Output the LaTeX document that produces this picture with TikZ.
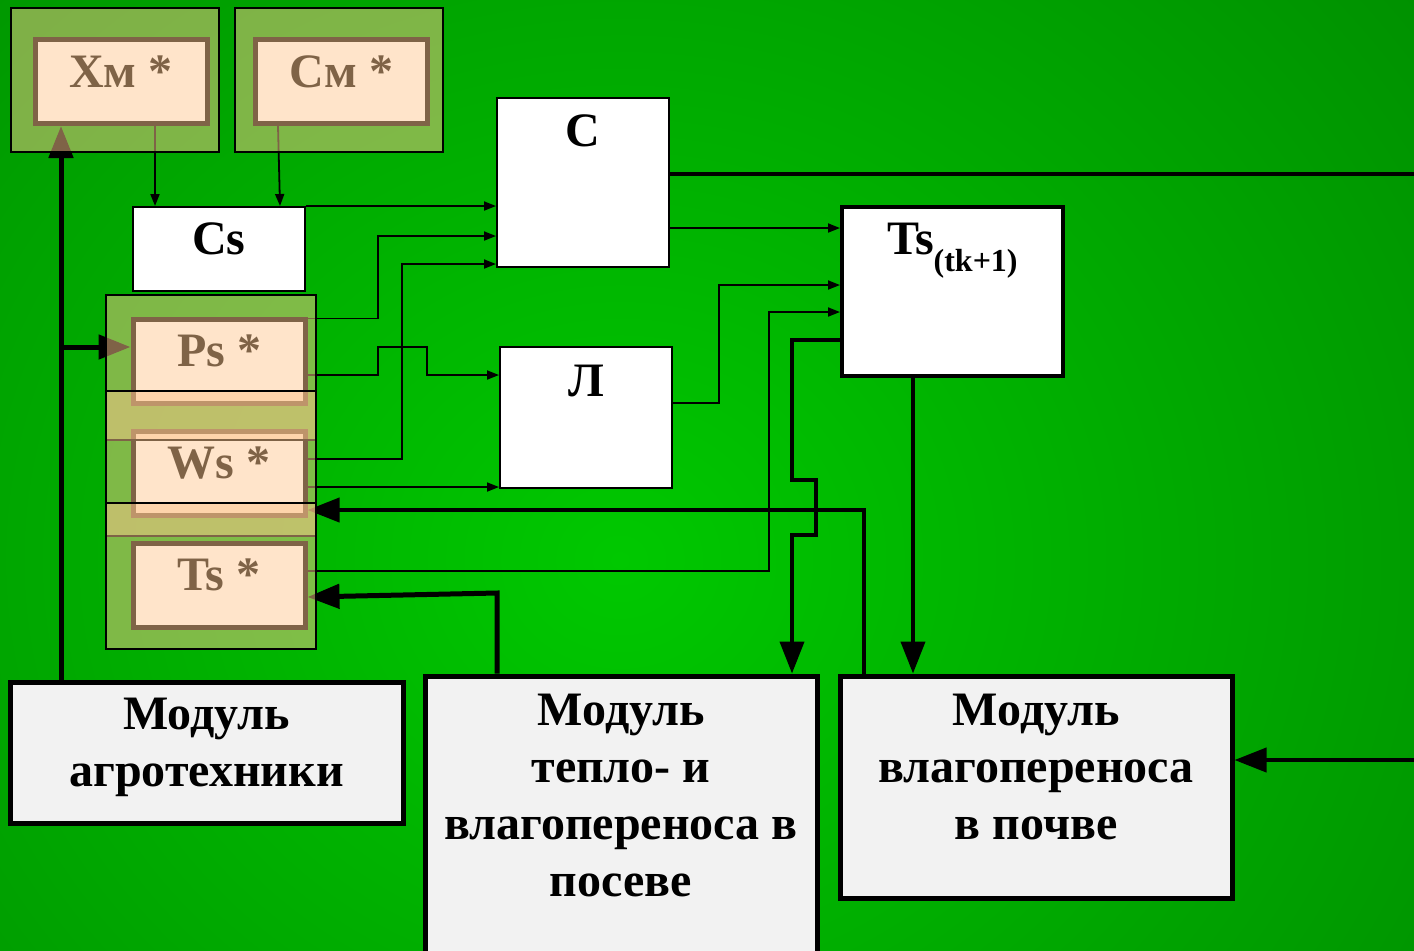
\documentclass[tikz,border=0pt]{standalone}
\usepackage{fontspec}
\setmainfont{Liberation Serif}
\usetikzlibrary{arrows.meta,positioning}

\definecolor{bgin}{RGB}{0,200,0}
\definecolor{bgout}{RGB}{0,140,0}
\definecolor{tan}{RGB}{254,198,142}
\definecolor{peach}{RGB}{255,228,202}
\definecolor{mudbrown}{RGB}{127,99,71}
\definecolor{modgray}{RGB}{242,242,242}

\pgfdeclarelayer{bg}
\pgfdeclarelayer{fg}
\pgfsetlayers{bg,main,fg}

\begin{document}
\begin{tikzpicture}[x=0.5pt, y=-0.5pt, font=\bfseries\fontsize{24}{28.5}\selectfont,
                    group/.style={draw=black, line width=1pt, fill=tan, fill opacity=.5, minimum width=104pt, minimum height=72pt, inner sep=0pt}]
    \tikzstyle{inbox}=[draw=mudbrown, line width=2.5pt, fill=peach, text=mudbrown, minimum width=86pt, minimum height=42pt, inner sep=0pt, text depth=10pt]
    \tikzstyle{whitebox}=[draw=black, line width=1pt, fill=white, minimum width=86pt, inner sep=0pt]
    \tikzstyle{module}=[draw=black, line width=2.5pt, fill=modgray, minimum width=196pt, inner sep=0pt, align=center]
    \tikzstyle{connect}=[-{Triangle[length=6pt,width=4.5pt]}, line width=0.9pt]
    \tikzstyle{bigarrow}=[-{Triangle[length=16pt,width=12pt]}, line width=2.5pt]

    \useasboundingbox (0,0) rectangle (1414,950);
    \begin{pgfonlayer}{bg}
      \shade[inner color=bgin, outer color=bgout] (-480,-440) rectangle (1720,1560);
    \end{pgfonlayer}

    % blocks
    \node[whitebox, minimum height=42pt, text depth=10pt] (cs) at (219,249) {Cs};
    \node[whitebox, minimum height=84.5pt, text depth=52pt] (c) at (583,182.5) {С};
    \node[whitebox, minimum height=70.5pt, text depth=36.5pt] (l) at (586,417.5) {Л};
    \node[whitebox, line width=2pt, minimum width=110.5pt, minimum height=84.5pt, text depth=53pt] (tsk) at (952.5,291.5)
      {Ts\raisebox{-8.5pt}{\fontsize{16}{16}\selectfont(tk+1)}};
    \node[module, minimum width=196.5pt, minimum height=70.5pt, text depth=10pt] (agro) at (206.5,752.5) {Модуль\\агротехники};
    \node[module, minimum height=160pt, text depth=40.5pt] (heat) at (621,836) {Модуль\\тепло- и\\влагопереноса в\\посеве};
    \node[module, minimum height=111pt, text depth=20pt] (soil) at (1036,787) {Модуль\\влагопереноса\\в почве};

    % inputs
    \begin{pgfonlayer}{fg}
      \node[group] (xmgrp) at (115,80) {};
      \node[inbox] (xmin) at (121,81.5) {Хм *};
      \node[group] (cmgrp) at (339,80) {};
      \node[inbox] (cmin) at (341.5,81.5) {См *};
      \node[group, draw=none, minimum height=176pt] (stack) at (211,472) {};
      \node[inbox] (ps) at (219,361) {Ps *};
      \node[inbox] (ws) at (219,473) {Ws *};
      \node[inbox] (tsin) at (219,585) {Ts *};
      \fill[tan, opacity=.5] (stack.west |- 0,391) rectangle (stack.east |- 0,440);
      \fill[tan, opacity=.5] (stack.west |- 0,503) rectangle (stack.east |- 0,536);
      \draw[line width=1pt] (stack.west |- 0,391) -- (stack.east |- 0,391);
      \draw[line width=1pt] (stack.west |- 0,503) -- (stack.east |- 0,503);
      \draw[line width=1pt, mudbrown] (stack.west |- 0,440) -- (stack.east |- 0,440);
      \draw[line width=1pt, mudbrown] (stack.west |- 0,536) -- (stack.east |- 0,536);
      \draw[line width=1pt] (stack.north west) rectangle (stack.south east);
    \end{pgfonlayer}

    % links
    \coordinate (split) at (61,347);
    \coordinate (east1) at (1414,174);
    \coordinate (east2) at (1414,760);
    \draw[bigarrow] (agro.north -| 61,0) -- (xmin.south -| 61,0);
    \draw[bigarrow] (split) -- ([yshift=7pt]ps.west);
    \draw[connect] (xmin.south -| 155,0) -- (cs.north -| 155,0);
    \draw[connect] (cmin.south -| 278,0) -- (cs.north -| 280,0);
    \draw[connect] (cs.north east) -- (c.west |- cs.north east);
    \draw[connect] ([yshift=-1pt]ps.north east) -| (378,236) -- (c.west |- 0,236);
    \draw[connect] ([yshift=-7pt]ps.east) -| (378,347) -| (427,375) -- (l.west |- 0,375);
    \draw[connect] ([yshift=7pt]ws.east) -| (402,264) -- (c.west |- 0,264);
    \draw[connect] ([yshift=-7pt]ws.east) -- (l.west |- 0,487);
    \draw[bigarrow, line width=2pt] (soil.north -| 864,0) |- ([yshift=-18.5pt]ws.east);
    \draw[connect] ([yshift=7pt]tsin.east) -| (769,312) -- (tsk.west |- 0,312);
    \draw[connect] (c.east |- 0,228) -- (tsk.west |- 0,228);
    \draw[connect] (l.east |- 0,403) -| (719,285) -- (tsk.west |- 0,285);
    \draw[bigarrow, line width=2pt] (tsk.west |- 0,340) -| (792,480) -| (816,535) -| (heat.north -| 792,0);
    \draw[bigarrow, line width=2pt] (tsk.south -| 913,0) -- (soil.north -| 913,0);
    \draw[bigarrow] (heat.north -| 497,0) -- (497,593) -- ([yshift=-6pt]tsin.east);
    \draw[line width=2pt] (c.east |- east1) -- (east1);
    \draw[bigarrow, line width=2pt] (east2) -- (soil.east |- east2);
\end{tikzpicture}
\end{document}
